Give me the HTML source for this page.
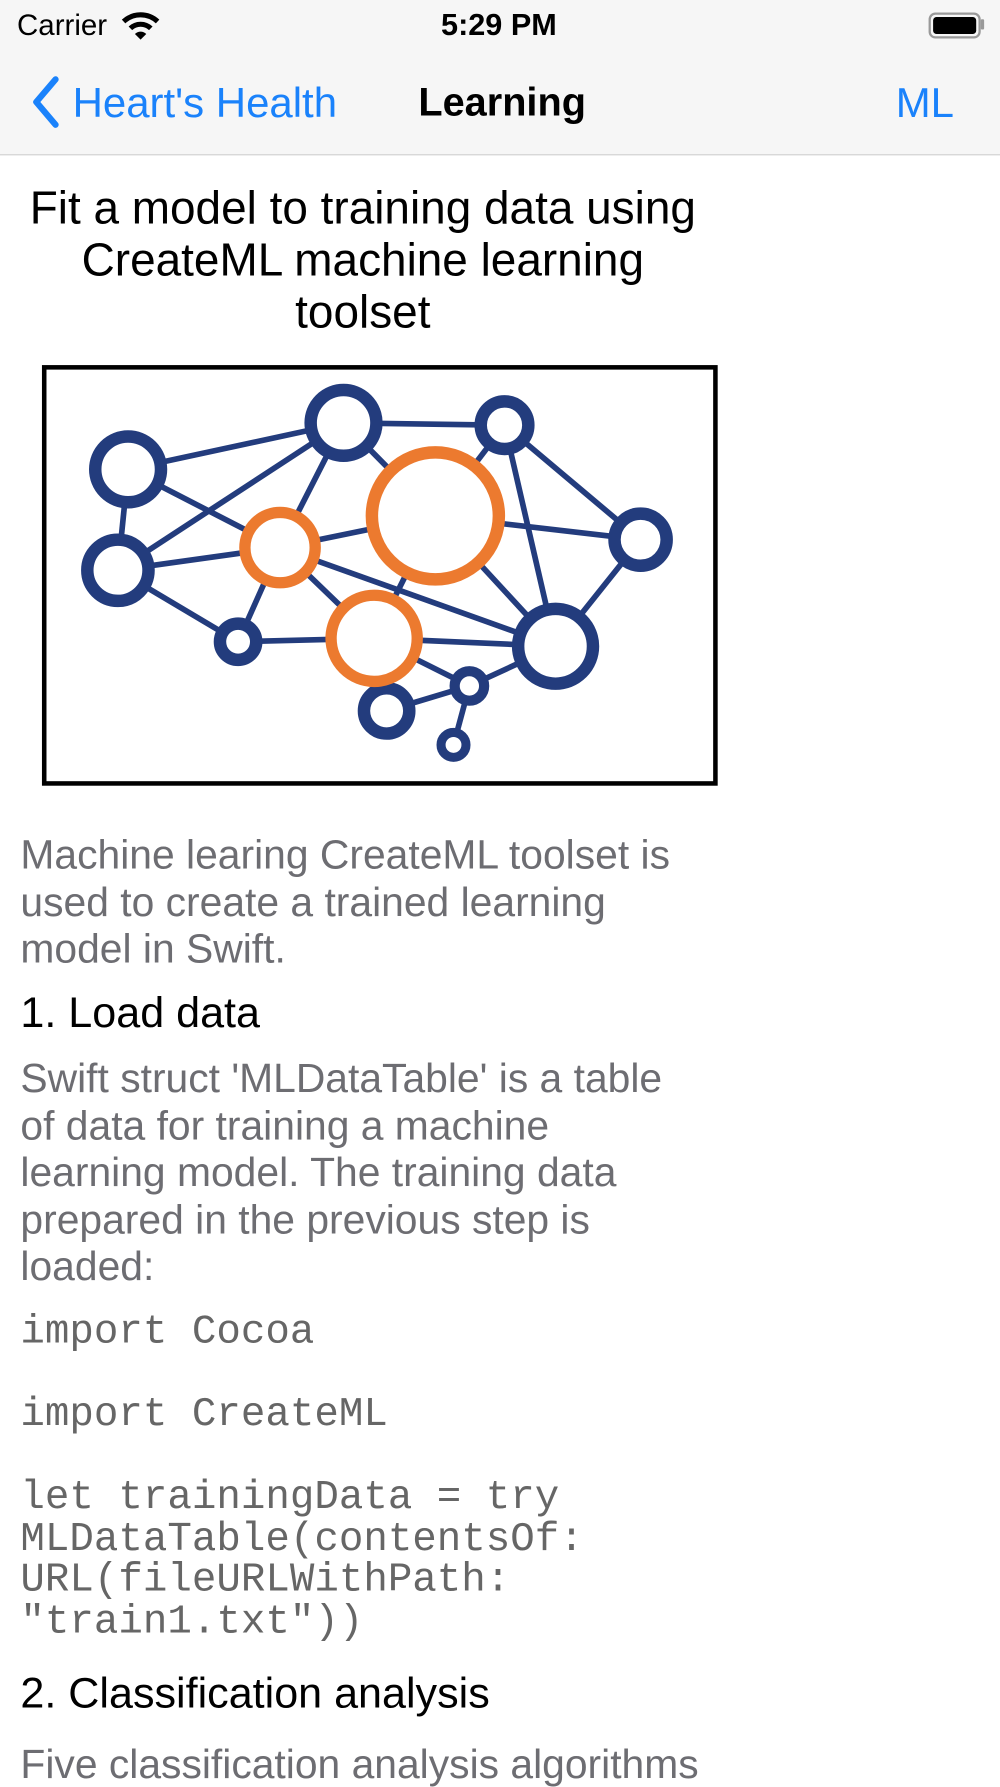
<!DOCTYPE html>
<html><head><meta charset="utf-8"><style>
html,body{margin:0;padding:0;width:1000px;height:1778px;overflow:hidden;background:#fff}
#w{position:absolute;left:0;top:0;width:882px;height:1569px;transform:scale(1.13379);transform-origin:0 0;font-family:"Liberation Sans",sans-serif}
.a{position:absolute;white-space:nowrap}
.p{position:absolute;left:18px;font-size:36px;color:#6d6d72;line-height:41.5px;white-space:nowrap}
.h{position:absolute;left:18px;font-size:38px;color:#000;white-space:nowrap}
.c{position:absolute;left:18px;font-family:"Liberation Mono",monospace;font-size:36px;color:#666;line-height:36.5px;white-space:pre}
</style></head><body><div id="w">
<div class="a" style="left:0;top:0;width:882px;height:136px;background:#f6f6f6;border-bottom:1.5px solid #d0d0d0"></div>
<div class="a" style="left:15px;top:7px;font-size:26px">Carrier</div>
<svg class="a" style="left:107px;top:10px" width="34" height="26" viewBox="0 0 34 26"><path d="M2 9 A22 22 0 0 1 32 9" stroke="#000" stroke-width="4.5" fill="none"/><path d="M8 15 A13 13 0 0 1 26 15" stroke="#000" stroke-width="4.5" fill="none"/><path d="M12 20 L17 25 L22 20 A7 7 0 0 0 12 20Z" fill="#000"/></svg>
<div class="a" style="left:389px;top:7px;font-size:27px;font-weight:bold">5:29 PM</div>
<div class="a" style="left:819px;top:11px;width:42px;height:19px;border:2px solid #999;border-radius:6px"></div>
<div class="a" style="left:823px;top:15px;width:38px;height:15px;background:#000;border-radius:3px"></div>
<div class="a" style="left:865px;top:17px;width:3px;height:9px;background:#999;border-radius:1px"></div>
<svg class="a" style="left:26px;top:67px" width="28" height="46" viewBox="0 0 28 46"><path d="M23 3 L6 23 L23 43" stroke="#1a82fb" stroke-width="5.5" fill="none" stroke-linecap="round" stroke-linejoin="round"/></svg>
<div class="a" style="left:64px;top:70px;font-size:37px;color:#1a82fb">Heart's Health</div>
<div class="a" style="left:369px;top:71px;font-size:35px;font-weight:bold">Learning</div>
<div class="a" style="left:790px;top:70px;font-size:37px;color:#1a82fb">ML</div>
<div class="a" style="left:0;top:160px;width:640px;text-align:center;font-size:40.5px;line-height:46px;white-space:normal">Fit a model to training data using<br>CreateML machine learning<br>toolset</div>
<svg class="a" style="left:0;top:0" width="882" height="720">
<rect x="39" y="324" width="592" height="367" fill="#fff" stroke="#000" stroke-width="4"/>
<g stroke="#233c7d" stroke-width="5">
<line x1="113" y1="414" x2="303" y2="373"/><line x1="113" y1="414" x2="104" y2="503"/><line x1="113" y1="414" x2="247" y2="483"/>
<line x1="303" y1="373" x2="104" y2="503"/><line x1="303" y1="373" x2="247" y2="483"/><line x1="303" y1="373" x2="384" y2="455"/>
<line x1="303" y1="373" x2="445" y2="375"/><line x1="445" y1="375" x2="384" y2="455"/><line x1="445" y1="375" x2="565" y2="476"/>
<line x1="445" y1="375" x2="490" y2="570"/><line x1="384" y1="455" x2="565" y2="476"/><line x1="247" y1="483" x2="104" y2="503"/>
<line x1="247" y1="483" x2="384" y2="455"/><line x1="247" y1="483" x2="210" y2="566"/><line x1="247" y1="483" x2="330" y2="563"/>
<line x1="247" y1="483" x2="490" y2="570"/><line x1="104" y1="503" x2="210" y2="566"/><line x1="210" y1="566" x2="330" y2="563"/>
<line x1="384" y1="455" x2="330" y2="563"/><line x1="384" y1="455" x2="490" y2="570"/><line x1="330" y1="563" x2="490" y2="570"/>
<line x1="330" y1="563" x2="414" y2="605"/><line x1="414" y1="605" x2="490" y2="570"/><line x1="565" y1="476" x2="490" y2="570"/>
<line x1="414" y1="605" x2="341" y2="627"/><line x1="414" y1="605" x2="400" y2="657"/><line x1="330" y1="563" x2="341" y2="627"/>
</g>
<g fill="#fff" stroke="#233c7d" stroke-width="11">
<circle cx="113" cy="414" r="29"/><circle cx="303" cy="373" r="29"/><circle cx="445" cy="375" r="21"/>
<circle cx="104" cy="503" r="27"/><circle cx="565" cy="476" r="23"/><circle cx="210" cy="566" r="16"/>
<circle cx="490" cy="570" r="33"/><circle cx="414" cy="605" r="13" stroke-width="9"/><circle cx="341" cy="627" r="20"/>
<circle cx="400" cy="657" r="11" stroke-width="8"/>
</g>
<g fill="#fff" stroke="#ec7a2f">
<circle cx="247" cy="483" r="31" stroke-width="10"/><circle cx="384" cy="455" r="56" stroke-width="11"/><circle cx="330" cy="563" r="38" stroke-width="10"/>
</g>
</svg>
<div class="p" style="top:733px">Machine learing CreateML toolset is<br>used to create a trained learning<br>model in Swift.</div>
<div class="h" style="top:873px">1. Load data</div>
<div class="p" style="top:930px">Swift struct 'MLDataTable' is a table<br>of data for training a machine<br>learning model. The training data<br>prepared in the previous step is<br>loaded:</div>
<div class="c" style="top:1157px">import Cocoa

import CreateML

let trainingData = try
MLDataTable(contentsOf:
URL(fileURLWithPath:
"train1.txt"))</div>
<div class="h" style="top:1473px">2. Classification analysis</div>
<div class="p" style="top:1535px">Five classification analysis algorithms</div>
</div></body></html>
